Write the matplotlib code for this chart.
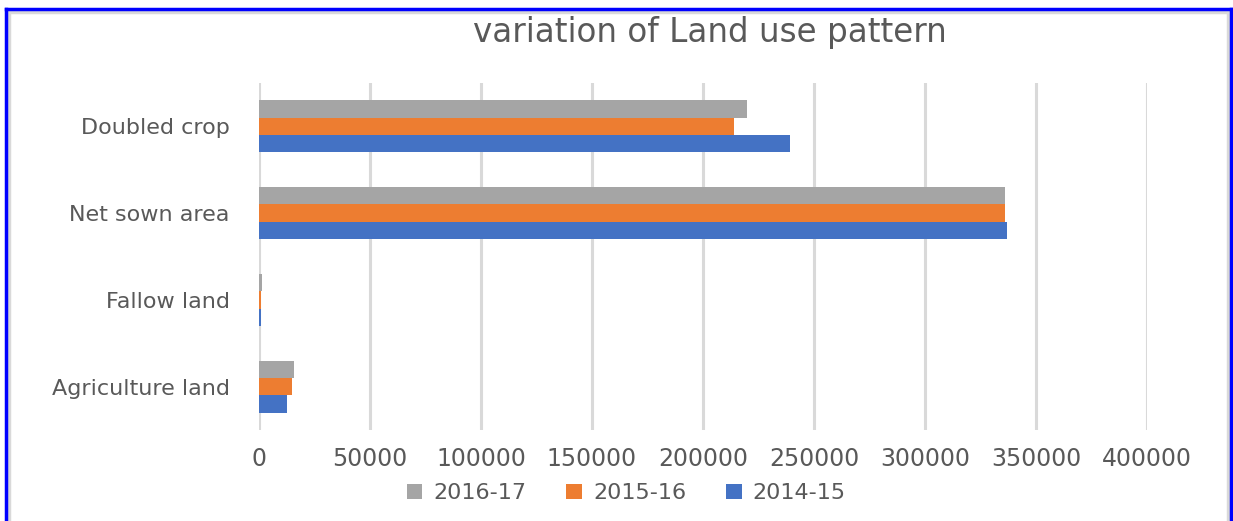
"""Script to plot variation of land use pattern"""

import numpy as np
import matplotlib.pyplot as plt
from matplotlib.lines import Line2D

categories = ["Agriculture land", "Fallow land", "Net sown area", "Doubled crop"]
series_names = ["2014-15", "2015-16", "2016-17"]
values_2014 = [12700, 1000, 337000, 239000]
values_2015 = [14900, 1100, 336000, 214000]
values_2016 = [15600, 1200, 336000, 220000]
colors = ["#4472C4", "#ED7D31", "#A5A5A5"]
text_color = "#595959"


def plot_land_use():
    """Plots the clustered bar chart"""
    fig = plt.figure(figsize=(12.33, 5.21), dpi=100)
    ax = fig.add_axes([0.21, 0.1747, 0.7203, 0.666])

    y = np.arange(len(categories))
    h = 0.2
    all_values = [values_2014, values_2015, values_2016]
    handles = []
    for i, (vals, name, col) in enumerate(zip(all_values, series_names, colors)):
        b = ax.barh(y + (i - 1) * h, vals, height=h, color=col, label=name,
                    zorder=3)
        handles.append(b)

    ax.set_xlim(0, 400000)
    ax.set_ylim(-0.5, len(categories) - 0.5)
    ax.set_xticks(np.arange(0, 400001, 50000))
    ax.set_yticks(y)
    ax.set_yticklabels(categories)
    ax.grid(axis='x', color='#D9D9D9', linewidth=2.2, zorder=0)
    for s in ax.spines.values():
        s.set_visible(False)
    ax.tick_params(axis='both', length=0, colors=text_color)
    ax.tick_params(axis='y', labelsize=16, pad=21)
    ax.tick_params(axis='x', labelsize=17, pad=12)

    fig.text(0.576, 0.937, "variation of Land use pattern", ha='center',
             va='center', fontsize=23.5, color=text_color)

    fig.legend(handles[::-1], series_names[::-1], loc='center',
               bbox_to_anchor=(0.508, 0.053), ncol=3, frameon=False,
               fontsize=16, labelcolor=text_color, handlelength=0.7,
               handleheight=0.7, handletextpad=0.5, columnspacing=1.8)

    # outer frame of the pasted chart (bottom edge is cut off)
    W, H = 1233.0, 521.0
    frame = [((9 / W, 9 / W), (0, 1 - 12 / H), '#D9D9D9'),
             ((9 / W, 1228 / W), (1 - 12 / H, 1 - 12 / H), '#D9D9D9'),
             ((1228 / W, 1228 / W), (1 - 12 / H, 0), '#D9D9D9'),
             ((6 / W, 6 / W), (0, 1 - 9 / H), '#0000FF'),
             ((6 / W, 1231 / W), (1 - 9 / H, 1 - 9 / H), '#0000FF'),
             ((1231 / W, 1231 / W), (1 - 9 / H, 0), '#0000FF')]
    for xs, ys, col in frame:
        fig.lines.append(Line2D(xs, ys, transform=fig.transFigure,
                                color=col, linewidth=2.5))

    plt.savefig('out.png', dpi=100)


if __name__ == "__main__":
    plot_land_use()
